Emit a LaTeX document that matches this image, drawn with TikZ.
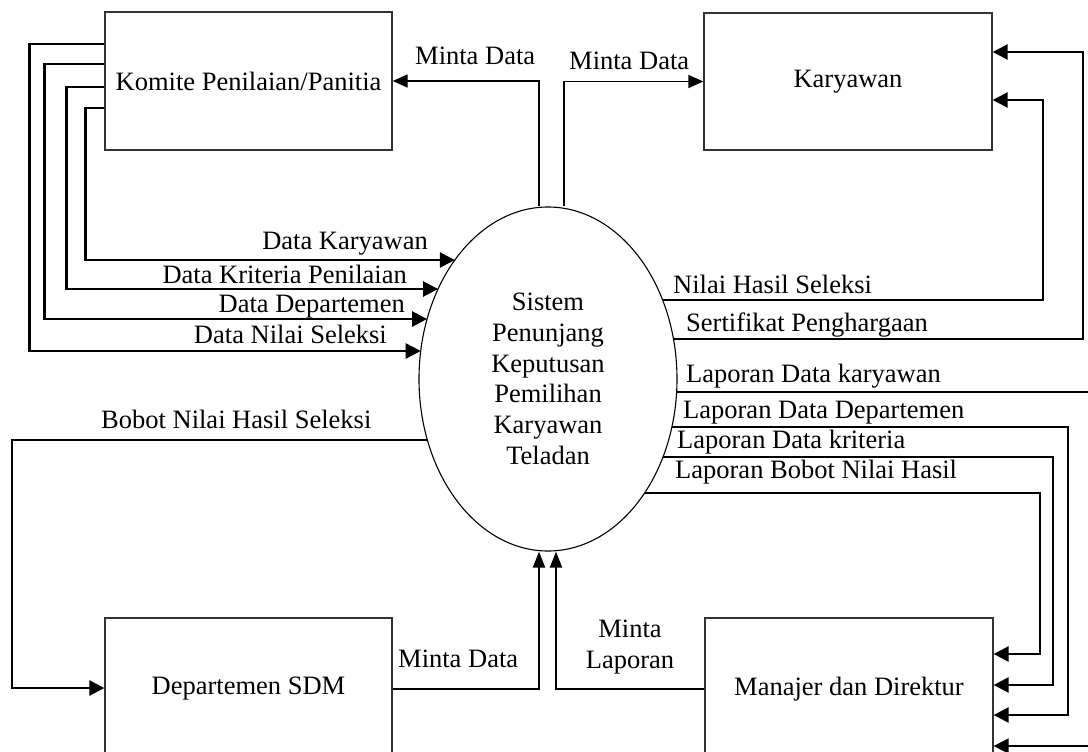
\documentclass[tikz,border=0pt]{standalone}
\usepackage{fontspec}
\setmainfont{Liberation Serif}
\usetikzlibrary{arrows.meta,shapes.geometric,calc}
\begin{document}
\begin{tikzpicture}[x=1pt,y=-1pt,
  every node/.style={font=\fontsize{26.5}{30.7}\selectfont, inner sep=0pt},
  entity/.style={rectangle, draw=black!80, line width=1.3pt, minimum width=287pt},
  process/.style={ellipse, draw, line width=1.1pt, minimum width=258pt, minimum height=344pt, align=center},
  flow/.style={line width=2.6pt, -{Triangle[length=15pt,width=15pt]}},
  lightflow/.style={line width=1.6pt, -{Triangle[length=15pt,width=13pt]}},
  upflow/.style={line width=2pt, -{Triangle[length=16pt,width=12pt]}}
]
\useasboundingbox (0,0) rectangle (1088,752);
\clip (0,0) rectangle (1088,752);

% nodes
\node[entity, minimum height=138pt] (komite) at (248.5,81) {Komite Penilaian/Panitia};
\node[entity, minimum width=288pt, minimum height=137pt] (karyawan) at (848,81.5) {Karyawan};
\node[entity, minimum height=142pt] (sdm) at (248.5,689) {Departemen SDM};
\node[entity, minimum width=288pt, minimum height=142pt] (manajer) at (849,689) {Manajer dan Direktur};
\node[process] (sys) at (548,379) {Sistem\\Penunjang\\Keputusan\\Pemilihan\\Karyawan\\Teladan};

% helper coordinates on the ellipse border
\path (sys.center) ++({180-asin(-28/172)}:129 and 172) coordinate (eA);
\path (sys.center) ++({180-asin(-60/172)}:129 and 172) coordinate (eB);
\path (sys.center) ++({180-asin(-90/172)}:129 and 172) coordinate (eC);
\path (sys.center) ++({180-asin(-119/172)}:129 and 172) coordinate (eD);
\path (sys.center) ++({180-asin(61/172)}:129 and 172) coordinate (eL);
\path (sys.center) ++({asin(-79/172)}:129 and 172) coordinate (eR1);
\path (sys.center) ++({asin(-40/172)}:129 and 172) coordinate (eR2);
\path (sys.center) ++({asin(13/172)}:129 and 172) coordinate (eR3);
\path (sys.center) ++({asin(48/172)}:129 and 172) coordinate (eR4);
\path (sys.center) ++({asin(78/172)}:129 and 172) coordinate (eR5);
\path (sys.center) ++({asin(114/172)}:129 and 172) coordinate (eR6);

\coordinate (kA) at (komite.north west |- 0,44);
\coordinate (kB) at (komite.north west |- 0,64);
\coordinate (kC) at (komite.north west |- 0,87);
\coordinate (kD) at (komite.north west |- 0,108);

\coordinate (c1) at (1043,100);
\coordinate (c2) at (1083,52);
\coordinate (c3) at (1096,746);
\coordinate (c4) at (1068,715);
\coordinate (c5) at (1053,685);
\coordinate (c6) at (1040,654);
\coordinate (c7) at (12,688);
\coordinate (xL) at (539,0);
\coordinate (xR) at (556,0);
\coordinate (xT) at (564,0);

% Komite -> Sistem
\draw[flow] (kA) -- ++(-75,0) |- (eA);
\draw[flow] (kB) -- ++(-60,0) |- (eB);
\draw[flow] (kC) -- ++(-38,0) |- (eC);
\draw[flow] (kD) -- ++(-19,0) |- (eD);

% Sistem -> Komite / Karyawan (Minta Data)
\draw[lightflow] (sys.north -| xL) |- (komite.east);
\draw[lightflow] (sys.north -| xT) |- (karyawan.west);

% Sistem -> Karyawan
\draw[flow] (eR1) -| (c1) -- (karyawan.east |- c1);
\draw[flow] (eR2) -| (c2) -- (karyawan.east |- c2);

% Sistem -> Manajer
\draw[flow, line width=1.8pt] (eR3) -| (c3) -- (manajer.east |- c3);
\draw[flow] (eR4) -| (c4) -- (manajer.east |- c4);
\draw[flow] (eR5) -| (c5) -- (manajer.east |- c5);
\draw[flow] (eR6) -| (c6) -- (manajer.east |- c6);

% Sistem -> SDM
\draw[flow] (eL) -| (c7) -- (sdm.west |- c7);

% SDM / Manajer -> Sistem
\draw[upflow] (sdm.east) -| (sys.south -| xL);
\draw[upflow] (manajer.west) -| (sys.south -| xR);

% labels
\node[anchor=base west] (l1) at (415,65) {Minta Data};
\node[anchor=base west] (l2) at (569,70) {Minta Data};
\node[anchor=base east] (l3) at (428,249) {Data Karyawan};
\node[anchor=base east] (l4) at (407,283) {Data Kriteria Penilaian};
\node[anchor=base east] (l5) at (405,312) {Data Departemen};
\node[anchor=base east] (l6) at (387,343) {Data Nilai Seleksi};
\node[anchor=base west] (l7) at (101,428) {Bobot Nilai Hasil Seleksi};
\node[anchor=base west] (l8) at (398,667) {Minta Data};
\node[align=center] (l9) at (630,647) {Minta\\Laporan};
\node[anchor=base west] (l10) at (673,293) {Nilai Hasil Seleksi};
\node[anchor=base west] (l11) at (686,331) {Sertifikat Penghargaan};
\node[anchor=base west] (l12) at (686,382) {Laporan Data karyawan};
\node[anchor=base west] (l13) at (683,418) {Laporan Data Departemen};
\node[anchor=base west] (l14) at (677,448) {Laporan Data kriteria};
\node[anchor=base west] (l15) at (675,478) {Laporan Bobot Nilai Hasil};
\end{tikzpicture}
\end{document}
